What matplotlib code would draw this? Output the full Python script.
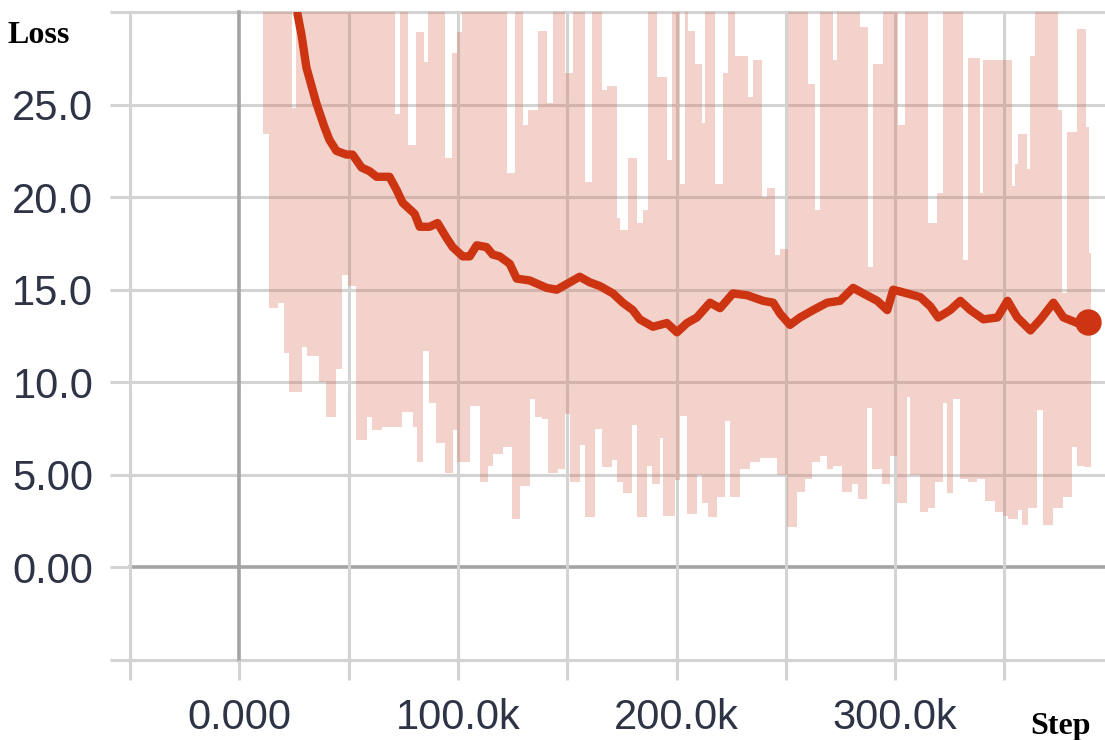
import numpy as np
import matplotlib.pyplot as plt
from matplotlib.ticker import FixedLocator, FixedFormatter

# raw loss: lower and upper envelopes, piecewise constant (edges in k steps)
lo_edges = [11.0, 13.7, 17.9, 20.6, 22.9, 28.9, 31.1, 36.6, 39.8, 44.4, 47.2, 49.5, 53.6, 58.2,
            60.5, 65.5, 74.2, 79.3, 81.1, 83.8, 87.0, 90.2, 93.9, 97.6, 99.4, 105.4, 110.0,
            113.6, 115.9, 120.5, 124.6, 128.3, 132.8, 135.1, 138.3, 141.1, 145.7, 148.9, 151.2,
            155.7, 158.0, 162.6, 165.8, 170.4, 172.7, 175.4, 179.6, 181.9, 186.4, 188.7, 192.4,
            193.8, 199.3, 201.6, 204.8, 209.3, 211.6, 214.4, 218.5, 222.2, 224.5, 229.0, 233.6,
            238.2, 246.0, 250.6, 255.2, 258.8, 262.0, 265.7, 268.9, 271.6, 275.8, 280.3, 283.1,
            287.2, 289.5, 294.1, 297.8, 301.0, 305.5, 306.9, 311.5, 315.2, 318.4, 322.0, 323.9,
            326.6, 329.8, 333.5, 337.6, 341.3, 345.9, 349.5, 351.8, 356.4, 358.2, 361.0, 365.1,
            367.8, 372.0, 377.0, 381.1, 383.4, 386.2, 389.4]
lo_vals = [23.4, 14.0, 14.3, 11.6, 9.5, 11.9, 11.4, 10.0, 8.1, 10.7, 15.8, 15.2, 6.9, 8.1,
           7.4, 7.6, 8.4, 7.6, 5.7, 11.7, 8.9, 6.7, 5.1, 7.4, 5.7, 8.7, 4.6,
           5.5, 6.1, 6.5, 2.6, 4.4, 9.1, 8.1, 8.0, 5.1, 5.3, 8.3, 4.6,
           6.6, 2.7, 7.5, 5.4, 5.8, 4.6, 4.0, 7.7, 2.7, 5.5, 4.5, 7.0,
           2.8, 4.7, 8.2, 2.9, 5.0, 3.5, 2.7, 3.8, 7.9, 3.8, 5.3, 5.7,
           5.9, 5.0, 2.2, 4.1, 4.8, 5.7, 6.0, 5.3, 5.5, 4.1, 4.5, 3.7,
           8.6, 5.3, 4.5, 6.0, 3.5, 9.2, 5.0, 3.0, 3.2, 4.6, 8.9, 4.0,
           9.1, 4.8, 4.6, 4.8, 3.6, 3.0, 2.8, 2.6, 3.1, 2.3, 3.2, 8.5,
           2.3, 3.2, 3.8, 6.5, 5.5, 5.4]

hi_edges = [11.0, 24.3, 26.1, 71.0, 73.3, 77.0, 80.6, 84.7, 86.1, 93.9, 97.1, 99.4, 101.7,
            122.3, 126.0, 129.6, 131.9, 136.5, 140.6, 143.4, 148.9, 152.5, 158.0, 161.2, 165.8,
            168.1, 172.7, 174.1, 177.7, 181.9, 184.6, 186.9, 191.0, 195.6, 197.9, 201.6, 203.9,
            205.2, 208.4, 211.6, 213.0, 217.6, 221.3, 223.5, 226.7, 232.7, 235.0, 239.1, 241.4,
            245.1, 247.4, 251.0, 260.2, 263.4, 265.7, 271.6, 273.5, 284.0, 287.7, 290.0, 294.5,
            301.4, 304.6, 315.2, 319.3, 322.0, 331.2, 333.5, 339.0, 340.4, 349.5, 353.6, 355.0,
            356.4, 360.5, 361.9, 364.2, 374.3, 376.5, 378.8, 383.4, 387.1, 388.5, 389.4]
hi_vals = [31, 24.8, 31, 24.5, 31, 22.8, 28.9, 27.3, 31, 22.1, 27.8, 28.9, 31,
           21.3, 31, 23.9, 24.7, 29.0, 25.1, 31, 26.7, 31, 20.8, 31, 25.8,
           26.0, 18.9, 18.2, 22.1, 18.6, 19.3, 31, 26.5, 22.0, 31, 20.7, 31,
           29.0, 27.2, 24.0, 31, 20.7, 26.7, 31, 27.6, 25.4, 27.4, 20.0, 20.5,
           16.9, 17.2, 31, 26.1, 19.3, 31, 27.4, 31, 29.2, 16.2, 27.2, 31,
           23.9, 31, 18.6, 20.2, 31, 16.6, 27.5, 20.2, 27.4, 27.4, 20.6, 21.8,
           23.4, 21.5, 27.6, 31, 24.7, 14.8, 23.5, 29.1, 23.8, 17.0]

# smoothed loss (k steps, value)
smooth_steps = [26.6, 28.4, 30.7, 35.3, 38.9, 41.2, 44.4, 49.0, 51.8, 55.9, 59.6, 62.8, 68.7,
                71.9, 74.7, 80.2, 82.5, 87.0, 90.7, 94.8, 97.6, 102.2, 105.4, 108.6, 113.1,
                115.9, 119.1, 123.7, 126.9, 132.8, 140.6, 145.2, 151.2, 155.7, 160.3, 164.9,
                170.9, 175.4, 180.0, 183.2, 189.2, 195.6, 200.2, 204.8, 209.3, 215.3, 219.9,
                225.8, 232.3, 239.6, 244.2, 247.4, 251.9, 256.5, 262.5, 268.9, 274.8, 280.8,
                285.4, 291.8, 296.4, 299.1, 305.5, 311.5, 316.1, 319.7, 325.2, 329.8, 334.4,
                340.4, 346.8, 351.4, 355.9, 361.9, 366.5, 372.4, 377.0, 383.4, 388.0]
smooth_vals = [29.9, 28.8, 27.0, 25.05, 23.8, 23.1, 22.5, 22.3, 22.3, 21.6, 21.4, 21.1, 21.1,
               20.4, 19.7, 19.1, 18.4, 18.4, 18.6, 17.8, 17.3, 16.8, 16.8, 17.4, 17.3,
               16.9, 16.8, 16.4, 15.6, 15.5, 15.1, 15.0, 15.4, 15.7, 15.4, 15.2,
               14.8, 14.3, 13.9, 13.4, 13.0, 13.2, 12.7, 13.2, 13.5, 14.3, 14.0,
               14.8, 14.7, 14.4, 14.3, 13.7, 13.1, 13.5, 13.9, 14.3, 14.4, 15.1,
               14.8, 14.4, 13.9, 15.0, 14.8, 14.6, 14.1, 13.5, 13.9, 14.4, 13.9,
               13.4, 13.5, 14.4, 13.5, 12.8, 13.4, 14.3, 13.5, 13.2, 13.25]

xticks = [-50, 0, 50, 100, 150, 200, 250, 300, 350]
xlabels = ['', '0.000', '', '100.0k', '', '200.0k', '', '300.0k', '']
yticks = [-5, 0, 5, 10, 15, 20, 25, 30]
ylabels = ['', '0.00', '5.00', '10.0', '15.0', '20.0', '25.0', '']

grid_c = '#d3d3d3'
zero_c = '#a4a4a4'
txt_c = '#2e3446'

fig = plt.figure(figsize=(11.05, 7.40), dpi=100)
ax = fig.add_axes([130 / 1105, 80 / 740, 975 / 1105, 648 / 740])
ax.set_xlim(-50, 396)
ax.set_ylim(-5, 30)
for s in ax.spines.values():
    s.set_visible(False)

for y in yticks:
    ax.axhline(y, color=zero_c if y == 0 else grid_c, lw=2.6 if y == 0 else 2.2,
               zorder=0, clip_on=False)
for x in xticks:
    ax.axvline(x, color=zero_c if x == 0 else grid_c, lw=2.6 if x == 0 else 2.2,
               zorder=0, clip_on=False)

# merge the two envelopes onto a common set of edges
edges = np.union1d(lo_edges, hi_edges)
lo_idx = np.clip(np.searchsorted(lo_edges, edges, side='right') - 1, 0, len(lo_vals) - 1)
hi_idx = np.clip(np.searchsorted(hi_edges, edges, side='right') - 1, 0, len(hi_vals) - 1)
lo = np.array(lo_vals)[lo_idx]
hi = np.array(hi_vals)[hi_idx]
ax.fill_between(edges, lo, hi, step='post', color='#d46c55', alpha=0.3, lw=0, zorder=1)

ax.plot(smooth_steps, smooth_vals, color='#cd3412', lw=6, solid_joinstyle='round',
        solid_capstyle='round', zorder=3)
ax.plot(smooth_steps[-1], smooth_vals[-1], 'o', color='#cd3412', ms=18, zorder=4)

ax.xaxis.set_major_locator(FixedLocator(xticks))
ax.xaxis.set_major_formatter(FixedFormatter(xlabels))
ax.yaxis.set_major_locator(FixedLocator(yticks))
ax.yaxis.set_major_formatter(FixedFormatter(ylabels))
ax.tick_params(axis='both', length=14.4, width=2.2, color=grid_c, labelcolor=txt_c,
               labelsize=30)
ax.tick_params(axis='x', pad=13)
ax.tick_params(axis='y', pad=12)
for lab in ax.get_xticklabels() + ax.get_yticklabels():
    lab.set_fontfamily('Liberation Sans')

fig.text(8 / 1105, 1 - 43 / 740, 'Loss', fontsize=23, fontweight='bold',
         family='Liberation Serif', va='baseline', ha='left')
fig.text(1030 / 1105, 6 / 740, 'Step', fontsize=23, fontweight='bold',
         family='Liberation Serif', va='baseline', ha='left')

fig.savefig('out.png', dpi=100)
